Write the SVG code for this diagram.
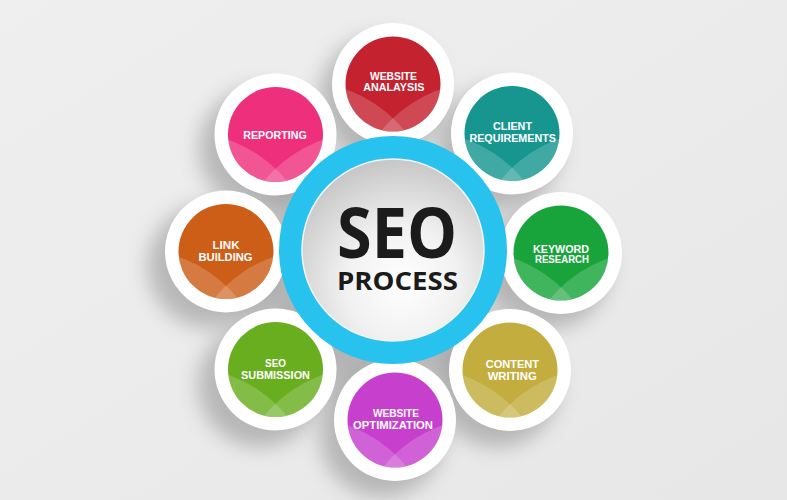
<svg xmlns="http://www.w3.org/2000/svg" width="787" height="500" viewBox="0 0 787 500">
<defs>
<style>
.ring{fill:#ffffff}
.lbl{font-family:'Liberation Sans',Arial,sans-serif;font-weight:700;font-size:10.3px;fill:#ffffff;text-anchor:middle}
.lens{fill:#ffffff;fill-opacity:0.18}
.shadow{fill:#6f6f6f;opacity:0.42;filter:url(#blur)}
.big{font-family:'Open Sans','Liberation Sans',sans-serif;font-weight:700;fill:#1b1b1b;text-anchor:middle}
</style>
<filter id="blur" x="-60%" y="-60%" width="220%" height="220%"><feGaussianBlur stdDeviation="10"/></filter>
<filter id="blurBig" x="-60%" y="-60%" width="220%" height="220%"><feGaussianBlur stdDeviation="18"/></filter>
<linearGradient id="bg" x1="0" y1="0" x2="1" y2="1">
<stop offset="0" stop-color="#efefef"/><stop offset="1" stop-color="#e7e7e7"/>
</linearGradient>
<radialGradient id="core" cx="0.55" cy="0.68" r="0.7">
<stop offset="0" stop-color="#ffffff"/><stop offset="0.45" stop-color="#f1f1f1"/><stop offset="1" stop-color="#c4c4c4"/>
</radialGradient>
<clipPath id="disc"><circle cx="0" cy="0" r="47.5"/></clipPath>
<g id="lenses" clip-path="url(#disc)">
<circle cx="-90" cy="128" r="130" class="lens"/>
<circle cx="90" cy="128" r="130" class="lens"/>
</g>
</defs>

<rect width="787" height="500" fill="url(#bg)"/>

<g id="shadows">
<circle cx="368" cy="278" r="120" fill="#6f6f6f" opacity="0.45" filter="url(#blurBig)"/>
<circle cx="381" cy="98" r="62" class="shadow"/>
<circle cx="499" cy="148" r="62" class="shadow"/>
<circle cx="548" cy="267" r="62" class="shadow"/>
<circle cx="497" cy="385" r="62" class="shadow"/>
<circle cx="382" cy="435" r="62" class="shadow"/>
<circle cx="260" cy="385" r="62" class="shadow"/>
<circle cx="210" cy="266" r="62" class="shadow"/>
<circle cx="261" cy="149" r="62" class="shadow"/>
</g>

<g id="connectors"/>

<g id="website-analysis" transform="translate(393,84)">
<circle r="61" class="ring"/>
<circle r="47.5" fill="#c4222f"/>
<use href="#lenses"/>
<text class="lbl" x="0.5" y="-4" textLength="47" lengthAdjust="spacingAndGlyphs">WEBSITE</text>
<text class="lbl" x="0.8" y="7" textLength="61" lengthAdjust="spacingAndGlyphs">ANALAYSIS</text>
</g>

<g id="client-requirements" transform="translate(512,133.5)">
<circle r="61" class="ring"/>
<circle r="47.5" fill="#17968f"/>
<use href="#lenses"/>
<text class="lbl" x="0.5" y="-3.5" textLength="39" lengthAdjust="spacingAndGlyphs">CLIENT</text>
<text class="lbl" x="0.7" y="8.2" textLength="86.5" lengthAdjust="spacingAndGlyphs">REQUIREMENTS</text>
</g>

<g id="keyword-research" transform="translate(561,253)">
<circle r="61" class="ring"/>
<circle r="47.5" fill="#18a43b"/>
<use href="#lenses"/>
<text class="lbl" x="0" y="-0.3" textLength="56" lengthAdjust="spacingAndGlyphs">KEYWORD</text>
<text class="lbl" x="1" y="10.3" textLength="54" lengthAdjust="spacingAndGlyphs">RESEARCH</text>
</g>

<g id="content-writing" transform="translate(510,370)">
<circle r="61" class="ring"/>
<circle r="47.5" fill="#c2ad3e"/>
<use href="#lenses"/>
<text class="lbl" x="2.4" y="-1.7" textLength="53.3" lengthAdjust="spacingAndGlyphs">CONTENT</text>
<text class="lbl" x="2.2" y="10" textLength="49" lengthAdjust="spacingAndGlyphs">WRITING</text>
</g>

<g id="website-optimization" transform="translate(395,420)">
<circle r="61" class="ring"/>
<circle r="47.5" fill="#c73fcd"/>
<use href="#lenses"/>
<text class="lbl" x="1" y="-3.3" textLength="46" lengthAdjust="spacingAndGlyphs">WEBSITE</text>
<text class="lbl" x="-2" y="9.3" textLength="80" lengthAdjust="spacingAndGlyphs">OPTIMIZATION</text>
</g>

<g id="seo-submission" transform="translate(275.5,369.5)">
<circle r="61" class="ring"/>
<circle r="47.5" fill="#68ae1e"/>
<use href="#lenses"/>
<text class="lbl" x="0" y="-2.8" textLength="21" lengthAdjust="spacingAndGlyphs">SEO</text>
<text class="lbl" x="0" y="9.5" textLength="69" lengthAdjust="spacingAndGlyphs">SUBMISSION</text>
</g>

<g id="link-building" transform="translate(226,251.5)">
<circle r="61" class="ring"/>
<circle r="47.5" fill="#cc5e18"/>
<use href="#lenses"/>
<text class="lbl" x="0" y="-2.2" textLength="27" lengthAdjust="spacingAndGlyphs">LINK</text>
<text class="lbl" x="-0.5" y="9.2" textLength="54" lengthAdjust="spacingAndGlyphs">BUILDING</text>
</g>

<g id="reporting" transform="translate(275.5,134.5)">
<circle r="61" class="ring"/>
<circle r="47.5" fill="#ee307c"/>
<use href="#lenses"/>
<text class="lbl" x="-0.5" y="4" textLength="63.5" lengthAdjust="spacingAndGlyphs">REPORTING</text>
</g>

<g id="seo-process">
<circle cx="393" cy="250" r="102.5" fill="none" stroke="#27c3ee" stroke-width="23"/>
<circle cx="393" cy="250" r="91" fill="url(#core)" stroke="#f4f4f4" stroke-width="1.5"/>
<text class="big" x="397" y="258" font-size="70" textLength="120" lengthAdjust="spacingAndGlyphs">SEO</text>
<text class="big" x="397.4" y="290" font-size="25.6" textLength="121" lengthAdjust="spacingAndGlyphs">PROCESS</text>
</g>
</svg>
